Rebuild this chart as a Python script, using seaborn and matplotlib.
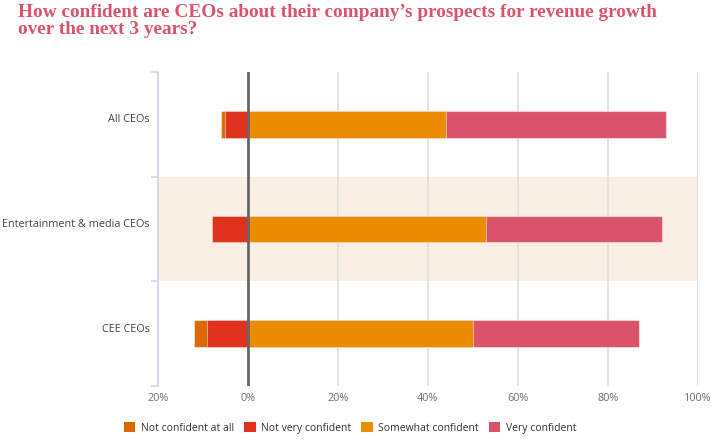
import matplotlib
matplotlib.use("Agg")
import matplotlib.pyplot as plt
import matplotlib.transforms as mtransforms
from matplotlib.patches import Patch
import seaborn as sns
import pandas as pd

categories = ["All CEOs", "Entertainment & media CEOs", "CEE CEOs"]
not_at_all = [1, 0, 3]
not_very = [5, 8, 9]
somewhat = [44, 53, 50]
very = [49, 39, 37]
series_names = ["Not confident at all", "Not very confident", "Somewhat confident", "Very confident"]
colors = ["#DC6900", "#E0301E", "#EB8C00", "#DB536A"]
xticks = [-20, 0, 20, 40, 60, 80, 100]
xticklabels = ["20%", "0%", "20%", "40%", "60%", "80%", "100%"]
title = "How confident are CEOs about their company\u2019s prospects for revenue growth\nover the next 3 years?"

sns.set_theme(style="white")
plt.rcParams["font.family"] = ["Open Sans", "DejaVu Sans"]

df = pd.DataFrame({
    "cat": categories,
    "neg_total": [-(a + b) for a, b in zip(not_at_all, not_very)],
    "neg_inner": [-b for b in not_very],
    "pos_total": [s + v for s, v in zip(somewhat, very)],
    "pos_inner": somewhat,
})

fig = plt.figure(figsize=(7.14, 4.46), dpi=100)
ax = fig.add_axes([158 / 714, 60 / 446, (697.7 - 158) / 714, 314 / 446])

# shaded band for middle category
ax.axhspan(0.5, 1.5, color="#FAEFE5", zorder=0, lw=0)

edge = dict(edgecolor=(1, 1, 1, 0.45), linewidth=0.8, saturation=1)
w = 0.257
sns.barplot(data=df, y="cat", x="pos_total", color=colors[3], orient="h", width=w, ax=ax, zorder=3, **edge)
sns.barplot(data=df, y="cat", x="pos_inner", color=colors[2], orient="h", width=w, ax=ax, zorder=4, **edge)
sns.barplot(data=df, y="cat", x="neg_total", color=colors[0], orient="h", width=w, ax=ax, zorder=3, **edge)
sns.barplot(data=df, y="cat", x="neg_inner", color=colors[1], orient="h", width=w, ax=ax, zorder=4, **edge)

ax.set_xlim(-20, 100)
ax.set_ylim(2.5, -0.5)
ax.set_xticks(xticks)
ax.set_xticklabels(xticklabels)
ax.set_xlabel("")
ax.set_ylabel("")

for x in xticks[1:]:
    if x == 0:
        ax.axvline(0, color="#666666", lw=2, zorder=5)
    else:
        ax.axvline(x, color="#E0E0E0", lw=1.3, zorder=1)

for s in ["top", "right", "bottom"]:
    ax.spines[s].set_visible(False)
ax.spines["left"].set_color("#CCD6EB")
ax.spines["left"].set_linewidth(1.3)

ax.tick_params(axis="x", length=0, pad=5, labelsize=7.8, labelcolor="#707070")
ax.tick_params(axis="y", which="major", length=0, pad=6, labelsize=7.8, labelcolor="#444444")
ax.set_yticks([-0.5, 0.5, 1.5, 2.5], minor=True)
ax.tick_params(axis="y", which="minor", length=5, width=1.2, color="#CCD6EB", direction="out", left=True)

off = mtransforms.ScaledTranslation(0, 6 / 100, fig.dpi_scale_trans)
for lab in ax.get_yticklabels():
    lab.set_transform(lab.get_transform() + off)

fig.text(18 / 714, 1 - 4 / 446, title, ha="left", va="top", fontsize=13.85, fontweight="bold",
         family="Liberation Serif", color="#DB536A", linespacing=1.0)

handles = [Patch(facecolor=c, edgecolor="none", label=n) for c, n in zip(colors, series_names)]
fig.legend(handles=handles, loc="center", bbox_to_anchor=(350 / 714, 18 / 446), ncol=4, frameon=False,
           fontsize=7.5, handlelength=1.1, handleheight=1.1, handletextpad=0.5, columnspacing=1.0,
           labelcolor="#333333")

fig.savefig("out.png", dpi=100)
